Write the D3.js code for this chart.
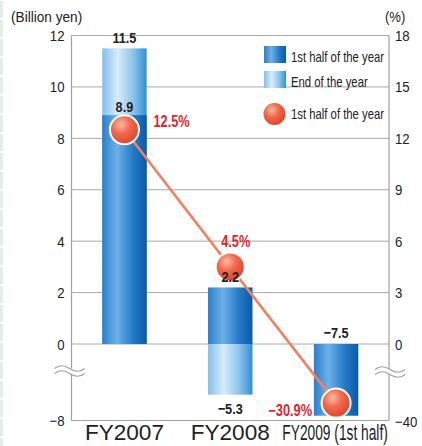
<!DOCTYPE html>
<html>
<head>
<meta charset="utf-8">
<script src="https://cdn.jsdelivr.net/npm/d3@7"></script>
<style>
  html, body { margin: 0; padding: 0; background: #fff; }
  svg { display: block; font-family: "Liberation Sans", Arial, sans-serif; }
</style>
</head>
<body>
<svg id="chart" width="422" height="446"></svg>
<script>
// Operating income (billion yen) and margin (%)
const categories = ["FY2007", "FY2008", "FY2009 (1st half)"];
const firstHalf = [8.9, 2.2, -7.5];          // 1st half of the year
const yearEnd = [11.5, -5.3, null];          // End of the year
const ratio = [12.5, 4.5, -30.9];            // 1st half of the year (%)
const leftTicks = [12, 10, 8, 6, 4, 2, 0, -8];
const rightTicks = [18, 15, 12, 9, 6, 3, 0, -40];
const gridValues = [12, 10, 8, 6, 4, 2, 0];
const legendLabels = ["1st half of the year", "End of the year", "1st half of the year"];

const svg = d3.select("#chart");
const X0 = 71.5, X1 = 389, YTOP = 35.5, YZERO = 344, YBOT = 420.5;

// Axis is broken below zero, so each scale is piecewise linear
const y = d3.scaleLinear().domain([-8, 0, 12]).range([YBOT, YZERO, YTOP]);
const yR = d3.scaleLinear().domain([-40, 0, 18]).range([YBOT, YZERO, YTOP]);
const x = d3.scaleBand().domain(categories).range([X0, X1]).paddingInner(0.58).paddingOuter(0.29);

// Squeeze text horizontally to a condensed look
function squeeze(sel, f) {
  sel.each(function () {
    const w = this.getComputedTextLength();
    this.setAttribute("textLength", w * f);
    this.setAttribute("lengthAdjust", "spacingAndGlyphs");
  });
}

const defs = svg.append("defs");
const dark = defs.append("linearGradient").attr("id", "darkBar");
[[0, "#2a80cc"], [0.33, "#6db0e6"], [0.7, "#2479c6"], [1, "#0a5aa8"]]
  .forEach(([o, c]) => dark.append("stop").attr("offset", o).attr("stop-color", c));
const light = defs.append("linearGradient").attr("id", "lightBar");
[[0, "#84c0ec"], [0.35, "#d6ecfa"], [0.7, "#8cc3ec"], [1, "#2f8fd6"]]
  .forEach(([o, c]) => light.append("stop").attr("offset", o).attr("stop-color", c));
const ball = defs.append("radialGradient").attr("id", "ball")
  .attr("cx", "38%").attr("cy", "32%").attr("r", "70%");
[[0, "#fbbba2"], [0.45, "#f16a4e"], [1, "#e0422a"]]
  .forEach(([o, c]) => ball.append("stop").attr("offset", o).attr("stop-color", c));

// Pale strip on the left edge
svg.append("g").selectAll("rect")
  .data(d3.range(0, 446, 19))
  .join("rect")
  .attr("x", 0).attr("y", d => d + 1).attr("width", 3).attr("height", 17)
  .attr("fill", "#e4eee9");

// Gridlines (positive side)
svg.append("g").selectAll("line")
  .data(gridValues)
  .join("line")
  .attr("x1", X0).attr("x2", X1)
  .attr("y1", d => y(d)).attr("y2", d => y(d))
  .attr("stroke", "#a8a8a8").attr("stroke-width", 1);

// Axis frame: left, right, bottom
const frame = svg.append("g").attr("stroke", "#a0a0a0").attr("stroke-width", 1.2).attr("fill", "none");
frame.append("line").attr("x1", X0).attr("x2", X0).attr("y1", y(12)).attr("y2", y(-8));
frame.append("line").attr("x1", X1).attr("x2", X1).attr("y1", yR(18)).attr("y2", yR(-40));
frame.append("line").attr("x1", X0).attr("x2", X1).attr("y1", y(-8)).attr("y2", y(-8));

// Break marks on both axes
function breakMark(cx, cy) {
  const g = svg.append("g");
  const wave = (dy) => {
    const p = d3.path();
    p.moveTo(cx - 15, cy + dy);
    p.bezierCurveTo(cx - 8, cy + dy - 6, cx - 2, cy + dy - 1, cx, cy + dy);
    p.bezierCurveTo(cx + 2, cy + dy + 1, cx + 8, cy + dy + 6, cx + 15, cy + dy);
    return p.toString();
  };
  g.append("rect").attr("x", cx - 3).attr("y", cy - 2.5).attr("width", 6).attr("height", 5).attr("fill", "#fff");
  g.append("path").attr("d", wave(-2.5)).attr("fill", "none").attr("stroke", "#a0a0a0").attr("stroke-width", 1.1);
  g.append("path").attr("d", wave(2.5)).attr("fill", "none").attr("stroke", "#a0a0a0").attr("stroke-width", 1.1);
}
breakMark(X0 - 2, 371);
breakMark(X1 + 1, 372);

// Tick labels
const tickFont = 15;
svg.append("g").selectAll("text")
  .data(leftTicks)
  .join("text")
  .attr("x", X0 - 7).attr("y", d => y(d) + 5.5)
  .attr("text-anchor", "end").attr("font-size", tickFont).attr("fill", "#222")
  .text(d => d < 0 ? "\u2212" + Math.abs(d) : d)
  .call(squeeze, 0.88);
svg.append("g").selectAll("text")
  .data(rightTicks)
  .join("text")
  .attr("x", X1 + 6).attr("y", d => yR(d) + (d < 0 ? 6 : 5.5))
  .attr("text-anchor", "start").attr("font-size", tickFont).attr("fill", "#222")
  .text(d => d < 0 ? "\u2212" + Math.abs(d) : d)
  .call(squeeze, 0.88);

svg.append("text").attr("x", 11).attr("y", 22).attr("font-size", 14.5).attr("fill", "#222")
  .text("(Billion yen)").call(squeeze, 0.94);
svg.append("text").attr("x", 385).attr("y", 22).attr("font-size", 14.5).attr("fill", "#222")
  .text("(%)").call(squeeze, 0.9);

// Bars: year-end first, 1st half on top
const bw = x.bandwidth();
svg.append("g").selectAll("rect")
  .data(categories.map((c, i) => ({ c, v: yearEnd[i] })).filter(d => d.v !== null))
  .join("rect")
  .attr("x", d => x(d.c)).attr("width", bw)
  .attr("y", d => y(Math.max(0, d.v)))
  .attr("height", d => Math.abs(y(d.v) - y(0)))
  .attr("fill", "url(#lightBar)");
svg.append("g").selectAll("rect")
  .data(categories.map((c, i) => ({ c, v: firstHalf[i] })))
  .join("rect")
  .attr("x", d => x(d.c)).attr("width", bw)
  .attr("y", d => y(Math.max(0, d.v)))
  .attr("height", d => Math.abs(y(d.v) - y(0)))
  .attr("fill", "url(#darkBar)");

// Ratio line and markers
const cx = d => x(d) + bw / 2;
const pts = categories.map((c, i) => [cx(c), yR(ratio[i])]);
svg.append("path")
  .attr("d", d3.line()(pts))
  .attr("fill", "none").attr("stroke", "#f2825f").attr("stroke-width", 2.6);
svg.append("g").selectAll("circle")
  .data(pts)
  .join("circle")
  .attr("cx", d => d[0]).attr("cy", d => d[1]).attr("r", 14.5)
  .attr("fill", "url(#ball)").attr("stroke", "#fff").attr("stroke-width", 2);

// Value labels
const lab = svg.append("g").attr("font-weight", "bold").attr("font-size", 15.5).attr("fill", "#222");
const fmt = v => v < 0 ? "\u2212" + Math.abs(v) : String(v);
// FY2007
lab.append("text").attr("x", cx(categories[0])).attr("y", y(yearEnd[0]) - 5.5)
  .attr("text-anchor", "middle").text(fmt(yearEnd[0])).call(squeeze, 0.82);
lab.append("text").attr("x", cx(categories[0])).attr("y", y(firstHalf[0]) - 3)
  .attr("text-anchor", "middle").text(fmt(firstHalf[0])).call(squeeze, 0.82);
// FY2008
lab.append("text").attr("x", cx(categories[1])).attr("y", y(firstHalf[1]) - 5)
  .attr("text-anchor", "middle").text(fmt(firstHalf[1])).call(squeeze, 0.82);
lab.append("text").attr("x", cx(categories[1])).attr("y", y(yearEnd[1]) + 19)
  .attr("text-anchor", "middle").text(fmt(yearEnd[1])).call(squeeze, 0.82);
// FY2009
lab.append("text").attr("x", cx(categories[2])).attr("y", y(0) - 6)
  .attr("text-anchor", "middle").text(fmt(firstHalf[2])).call(squeeze, 0.82);

const red = svg.append("g").attr("font-weight", "bold").attr("font-size", 16).attr("fill", "#e8202a");
red.append("text").attr("x", pts[0][0] + 29).attr("y", pts[0][1] - 2.5)
  .text(ratio[0] + "%").call(squeeze, 0.8);
red.append("text").attr("x", pts[1][0] + 5.5).attr("y", pts[1][1] - 20)
  .attr("text-anchor", "middle").text(ratio[1] + "%").call(squeeze, 0.8);
red.append("text").attr("x", pts[2][0] - 24).attr("y", pts[2][1] + 13)
  .attr("text-anchor", "end").text(fmt(ratio[2]) + "%").call(squeeze, 0.8);

// Category labels, each scaled horizontally to its own width
const catScale = [1.05, 1.05, 0.64];
svg.append("g").selectAll("text")
  .data(categories)
  .join("text")
  .attr("transform", (d, i) => `translate(${cx(d) - (i === 2 ? 1 : 0)},440) scale(${catScale[i]},1)`)
  .attr("text-anchor", "middle").attr("font-size", 21.5).attr("fill", "#222")
  .text(d => d);

// Legend
const leg = svg.append("g");
const swY = [46, 71];
["url(#darkBar)", "url(#lightBar)"].forEach((f, i) => {
  leg.append("rect").attr("x", 264).attr("y", swY[i]).attr("width", 22).attr("height", 17).attr("fill", f);
});
leg.append("circle").attr("cx", 274.5).attr("cy", 114).attr("r", 11).attr("fill", "url(#ball)");
leg.selectAll("text")
  .data(legendLabels)
  .join("text")
  .attr("x", 291).attr("y", (d, i) => [62, 87, 119][i])
  .attr("font-size", 14.5).attr("fill", "#222")
  .text(d => d)
  .call(squeeze, 0.78);
</script>
</body>
</html>
